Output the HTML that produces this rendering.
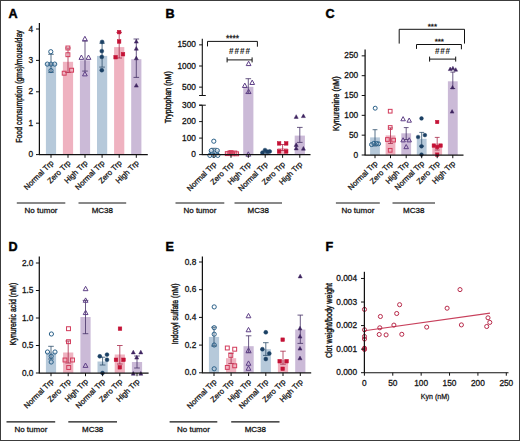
<!DOCTYPE html>
<html><head><meta charset="utf-8"><style>
html,body{margin:0;padding:0;background:#fff;width:520px;height:441px;overflow:hidden;}
svg{display:block;}
text{font-family:"Liberation Sans", sans-serif;}
</style></head><body>
<svg width="520" height="441" viewBox="0 0 520 441" font-family='"Liberation Sans", sans-serif'>
<rect x="0" y="0" width="520" height="441" fill="#fff"/>
<text x="8.6" y="17.5" font-size="12.6" font-weight="bold" fill="#000" stroke="#000" stroke-width="0.45">A</text>
<rect x="45.90" y="63.30" width="10.20" height="91.30" fill="#b6c9da"/>
<rect x="62.90" y="61.80" width="10.20" height="92.80" fill="#efb2c0"/>
<rect x="79.90" y="60.30" width="10.20" height="94.30" fill="#cbbad7"/>
<rect x="97.00" y="55.90" width="10.20" height="98.70" fill="#b6c9da"/>
<rect x="114.10" y="47.10" width="10.20" height="107.50" fill="#efb2c0"/>
<rect x="131.20" y="59.20" width="10.20" height="95.40" fill="#cbbad7"/>
<line x1="51.00" y1="54.30" x2="51.00" y2="72.30" stroke="#2e4f6c" stroke-width="0.8" />
<line x1="48.20" y1="54.30" x2="53.80" y2="54.30" stroke="#2e4f6c" stroke-width="0.8" />
<line x1="48.20" y1="72.30" x2="53.80" y2="72.30" stroke="#2e4f6c" stroke-width="0.8" />
<line x1="68.00" y1="48.00" x2="68.00" y2="72.50" stroke="#a8284a" stroke-width="0.8" />
<line x1="65.20" y1="48.00" x2="70.80" y2="48.00" stroke="#a8284a" stroke-width="0.8" />
<line x1="65.20" y1="72.50" x2="70.80" y2="72.50" stroke="#a8284a" stroke-width="0.8" />
<line x1="85.00" y1="41.10" x2="85.00" y2="71.10" stroke="#443064" stroke-width="0.8" />
<line x1="82.20" y1="41.10" x2="87.80" y2="41.10" stroke="#443064" stroke-width="0.8" />
<line x1="82.20" y1="71.10" x2="87.80" y2="71.10" stroke="#443064" stroke-width="0.8" />
<line x1="102.10" y1="43.20" x2="102.10" y2="67.10" stroke="#2e4f6c" stroke-width="0.8" />
<line x1="99.30" y1="43.20" x2="104.90" y2="43.20" stroke="#2e4f6c" stroke-width="0.8" />
<line x1="99.30" y1="67.10" x2="104.90" y2="67.10" stroke="#2e4f6c" stroke-width="0.8" />
<line x1="119.20" y1="32.40" x2="119.20" y2="58.00" stroke="#a8284a" stroke-width="0.8" />
<line x1="116.40" y1="32.40" x2="122.00" y2="32.40" stroke="#a8284a" stroke-width="0.8" />
<line x1="116.40" y1="58.00" x2="122.00" y2="58.00" stroke="#a8284a" stroke-width="0.8" />
<line x1="136.30" y1="39.00" x2="136.30" y2="77.40" stroke="#443064" stroke-width="0.8" />
<line x1="133.50" y1="39.00" x2="139.10" y2="39.00" stroke="#443064" stroke-width="0.8" />
<line x1="133.50" y1="77.40" x2="139.10" y2="77.40" stroke="#443064" stroke-width="0.8" />
<circle cx="50.80" cy="51.70" r="2.10" fill="none" stroke="#2a6088" stroke-width="1.0"/>
<circle cx="47.30" cy="64.10" r="2.10" fill="none" stroke="#2a6088" stroke-width="1.0"/>
<circle cx="51.00" cy="64.10" r="2.10" fill="none" stroke="#2a6088" stroke-width="1.0"/>
<circle cx="54.70" cy="64.10" r="2.10" fill="none" stroke="#2a6088" stroke-width="1.0"/>
<circle cx="51.00" cy="70.60" r="2.10" fill="none" stroke="#2a6088" stroke-width="1.0"/>
<rect x="65.95" y="46.05" width="3.90" height="3.90" fill="none" stroke="#d23a5a" stroke-width="1.0"/>
<rect x="65.95" y="52.75" width="3.90" height="3.90" fill="none" stroke="#d23a5a" stroke-width="1.0"/>
<rect x="62.25" y="71.25" width="3.90" height="3.90" fill="none" stroke="#d23a5a" stroke-width="1.0"/>
<rect x="69.65" y="68.25" width="3.90" height="3.90" fill="none" stroke="#d23a5a" stroke-width="1.0"/>
<polygon points="84.90,36.30 87.28,40.67 82.53,40.67" fill="none" stroke="#5e3f86" stroke-width="1.0" stroke-linejoin="miter"/>
<polygon points="81.40,55.00 83.78,59.38 79.03,59.38" fill="none" stroke="#5e3f86" stroke-width="1.0" stroke-linejoin="miter"/>
<polygon points="88.50,55.00 90.88,59.38 86.12,59.38" fill="none" stroke="#5e3f86" stroke-width="1.0" stroke-linejoin="miter"/>
<polygon points="84.90,71.50 87.28,75.88 82.53,75.88" fill="none" stroke="#5e3f86" stroke-width="1.0" stroke-linejoin="miter"/>
<circle cx="102.10" cy="41.90" r="1.95" fill="#1b4064" stroke="#1b4064" stroke-width="0.5"/>
<circle cx="101.80" cy="51.10" r="1.95" fill="#1b4064" stroke="#1b4064" stroke-width="0.5"/>
<circle cx="101.80" cy="56.90" r="1.95" fill="#1b4064" stroke="#1b4064" stroke-width="0.5"/>
<circle cx="101.80" cy="70.20" r="1.95" fill="#1b4064" stroke="#1b4064" stroke-width="0.5"/>
<rect x="117.30" y="30.30" width="3.60" height="3.60" fill="#c41236" stroke="#c41236" stroke-width="0.5"/>
<rect x="117.30" y="39.70" width="3.60" height="3.60" fill="#c41236" stroke="#c41236" stroke-width="0.5"/>
<rect x="113.80" y="55.40" width="3.60" height="3.60" fill="#c41236" stroke="#c41236" stroke-width="0.5"/>
<rect x="121.20" y="52.40" width="3.60" height="3.60" fill="#c41236" stroke="#c41236" stroke-width="0.5"/>
<polygon points="136.30,39.40 138.30,43.08 134.31,43.08" fill="#3e2460" stroke="#3e2460" stroke-width="0.5" stroke-linejoin="miter"/>
<polygon points="136.30,46.50 138.30,50.18 134.31,50.18" fill="#3e2460" stroke="#3e2460" stroke-width="0.5" stroke-linejoin="miter"/>
<polygon points="136.30,56.10 138.30,59.78 134.31,59.78" fill="#3e2460" stroke="#3e2460" stroke-width="0.5" stroke-linejoin="miter"/>
<polygon points="136.30,83.40 138.30,87.08 134.31,87.08" fill="#3e2460" stroke="#3e2460" stroke-width="0.5" stroke-linejoin="miter"/>
<line x1="39.40" y1="23.00" x2="39.40" y2="154.60" stroke="#111" stroke-width="1.25" />
<line x1="36.00" y1="154.60" x2="39.40" y2="154.60" stroke="#111" stroke-width="1.0" />
<text x="33.20" y="157.10" font-size="8.3" text-anchor="end" fill="#141414" stroke="#141414" stroke-width="0.28" font-weight="normal" >0</text>
<line x1="36.00" y1="123.20" x2="39.40" y2="123.20" stroke="#111" stroke-width="1.0" />
<text x="33.20" y="125.70" font-size="8.3" text-anchor="end" fill="#141414" stroke="#141414" stroke-width="0.28" font-weight="normal" >1</text>
<line x1="36.00" y1="91.80" x2="39.40" y2="91.80" stroke="#111" stroke-width="1.0" />
<text x="33.20" y="94.30" font-size="8.3" text-anchor="end" fill="#141414" stroke="#141414" stroke-width="0.28" font-weight="normal" >2</text>
<line x1="36.00" y1="60.40" x2="39.40" y2="60.40" stroke="#111" stroke-width="1.0" />
<text x="33.20" y="62.90" font-size="8.3" text-anchor="end" fill="#141414" stroke="#141414" stroke-width="0.28" font-weight="normal" >3</text>
<line x1="36.00" y1="29.00" x2="39.40" y2="29.00" stroke="#111" stroke-width="1.0" />
<text x="33.20" y="31.50" font-size="8.3" text-anchor="end" fill="#141414" stroke="#141414" stroke-width="0.28" font-weight="normal" >4</text>
<line x1="38.90" y1="154.60" x2="147.80" y2="154.60" stroke="#111" stroke-width="1.25" />
<line x1="51.00" y1="154.60" x2="51.00" y2="157.80" stroke="#111" stroke-width="1.0" />
<line x1="68.00" y1="154.60" x2="68.00" y2="157.80" stroke="#111" stroke-width="1.0" />
<line x1="85.00" y1="154.60" x2="85.00" y2="157.80" stroke="#111" stroke-width="1.0" />
<line x1="102.10" y1="154.60" x2="102.10" y2="157.80" stroke="#111" stroke-width="1.0" />
<line x1="119.20" y1="154.60" x2="119.20" y2="157.80" stroke="#111" stroke-width="1.0" />
<line x1="136.30" y1="154.60" x2="136.30" y2="157.80" stroke="#111" stroke-width="1.0" />
<text transform="translate(22.20,86.50) rotate(-90)" font-size="8.2" text-anchor="middle" fill="#141414" stroke="#141414" stroke-width="0.38" textLength="112.6" lengthAdjust="spacingAndGlyphs">Food consumption (gms)/mouse/day</text>
<text transform="translate(54.00,163.50) rotate(-45)" font-size="7.7" text-anchor="end" fill="#141414" stroke="#141414" stroke-width="0.28">Normal Trp</text>
<text transform="translate(71.00,163.50) rotate(-45)" font-size="7.7" text-anchor="end" fill="#141414" stroke="#141414" stroke-width="0.28">Zero Trp</text>
<text transform="translate(88.00,163.50) rotate(-45)" font-size="7.7" text-anchor="end" fill="#141414" stroke="#141414" stroke-width="0.28">High Trp</text>
<text transform="translate(105.10,163.50) rotate(-45)" font-size="7.7" text-anchor="end" fill="#141414" stroke="#141414" stroke-width="0.28">Normal Trp</text>
<text transform="translate(122.20,163.50) rotate(-45)" font-size="7.7" text-anchor="end" fill="#141414" stroke="#141414" stroke-width="0.28">Zero Trp</text>
<text transform="translate(139.30,163.50) rotate(-45)" font-size="7.7" text-anchor="end" fill="#141414" stroke="#141414" stroke-width="0.28">High Trp</text>
<line x1="16.80" y1="203.00" x2="65.30" y2="203.00" stroke="#151515" stroke-width="1.15" />
<line x1="78.50" y1="203.00" x2="126.20" y2="203.00" stroke="#151515" stroke-width="1.15" />
<text x="41.05" y="213.40" font-size="8" text-anchor="middle" fill="#141414" stroke="#141414" stroke-width="0.28" font-weight="normal" >No tumor</text>
<text x="102.35" y="213.40" font-size="8" text-anchor="middle" fill="#141414" stroke="#141414" stroke-width="0.28" font-weight="normal" >MC38</text>
<text x="165.6" y="17.5" font-size="12.6" font-weight="bold" fill="#000" stroke="#000" stroke-width="0.45">B</text>
<rect x="208.80" y="150.20" width="10.20" height="4.40" fill="#b6c9da"/>
<rect x="225.90" y="152.00" width="10.20" height="2.60" fill="#efb2c0"/>
<rect x="243.20" y="86.80" width="10.20" height="67.80" fill="#cbbad7"/>
<rect x="260.10" y="152.62" width="10.20" height="1.98" fill="#b6c9da"/>
<rect x="277.50" y="148.00" width="10.20" height="6.60" fill="#efb2c0"/>
<rect x="294.70" y="135.60" width="10.20" height="19.00" fill="#cbbad7"/>
<line x1="213.90" y1="148.30" x2="213.90" y2="154.60" stroke="#2e4f6c" stroke-width="0.8" />
<line x1="211.10" y1="148.30" x2="216.70" y2="148.30" stroke="#2e4f6c" stroke-width="0.8" />
<line x1="211.10" y1="154.60" x2="216.70" y2="154.60" stroke="#2e4f6c" stroke-width="0.8" />
<line x1="231.00" y1="151.50" x2="231.00" y2="154.60" stroke="#a8284a" stroke-width="0.8" />
<line x1="228.20" y1="151.50" x2="233.80" y2="151.50" stroke="#a8284a" stroke-width="0.8" />
<line x1="228.20" y1="154.60" x2="233.80" y2="154.60" stroke="#a8284a" stroke-width="0.8" />
<line x1="248.30" y1="78.70" x2="248.30" y2="93.30" stroke="#443064" stroke-width="0.8" />
<line x1="245.50" y1="78.70" x2="251.10" y2="78.70" stroke="#443064" stroke-width="0.8" />
<line x1="245.50" y1="93.30" x2="251.10" y2="93.30" stroke="#443064" stroke-width="0.8" />
<line x1="265.20" y1="152.00" x2="265.20" y2="154.60" stroke="#2e4f6c" stroke-width="0.8" />
<line x1="262.40" y1="152.00" x2="268.00" y2="152.00" stroke="#2e4f6c" stroke-width="0.8" />
<line x1="262.40" y1="154.60" x2="268.00" y2="154.60" stroke="#2e4f6c" stroke-width="0.8" />
<line x1="282.60" y1="144.50" x2="282.60" y2="150.50" stroke="#a8284a" stroke-width="0.8" />
<line x1="279.80" y1="144.50" x2="285.40" y2="144.50" stroke="#a8284a" stroke-width="0.8" />
<line x1="279.80" y1="150.50" x2="285.40" y2="150.50" stroke="#a8284a" stroke-width="0.8" />
<line x1="299.80" y1="127.40" x2="299.80" y2="142.40" stroke="#443064" stroke-width="0.8" />
<line x1="297.00" y1="127.40" x2="302.60" y2="127.40" stroke="#443064" stroke-width="0.8" />
<line x1="297.00" y1="142.40" x2="302.60" y2="142.40" stroke="#443064" stroke-width="0.8" />
<circle cx="213.80" cy="141.20" r="2.10" fill="none" stroke="#2a6088" stroke-width="1.0"/>
<circle cx="211.30" cy="150.60" r="2.10" fill="none" stroke="#2a6088" stroke-width="1.0"/>
<circle cx="217.30" cy="150.60" r="2.10" fill="none" stroke="#2a6088" stroke-width="1.0"/>
<circle cx="209.90" cy="155.40" r="2.10" fill="none" stroke="#2a6088" stroke-width="1.0"/>
<circle cx="213.80" cy="155.40" r="2.10" fill="none" stroke="#2a6088" stroke-width="1.0"/>
<circle cx="217.80" cy="155.40" r="2.10" fill="none" stroke="#2a6088" stroke-width="1.0"/>
<rect x="225.35" y="151.65" width="3.90" height="3.90" fill="none" stroke="#d23a5a" stroke-width="1.0"/>
<rect x="227.85" y="151.05" width="3.90" height="3.90" fill="none" stroke="#d23a5a" stroke-width="1.0"/>
<rect x="230.35" y="151.85" width="3.90" height="3.90" fill="none" stroke="#d23a5a" stroke-width="1.0"/>
<rect x="232.85" y="151.05" width="3.90" height="3.90" fill="none" stroke="#d23a5a" stroke-width="1.0"/>
<rect x="234.65" y="151.85" width="3.90" height="3.90" fill="none" stroke="#d23a5a" stroke-width="1.0"/>
<rect x="229.05" y="150.65" width="3.90" height="3.90" fill="none" stroke="#d23a5a" stroke-width="1.0"/>
<polygon points="248.60,61.20 250.97,65.58 246.22,65.58" fill="none" stroke="#5e3f86" stroke-width="1.0" stroke-linejoin="miter"/>
<polygon points="244.80,83.10 247.18,87.47 242.43,87.47" fill="none" stroke="#5e3f86" stroke-width="1.0" stroke-linejoin="miter"/>
<polygon points="252.20,80.10 254.57,84.47 249.82,84.47" fill="none" stroke="#5e3f86" stroke-width="1.0" stroke-linejoin="miter"/>
<polygon points="248.60,89.20 250.97,93.58 246.22,93.58" fill="none" stroke="#5e3f86" stroke-width="1.0" stroke-linejoin="miter"/>
<polygon points="248.30,151.80 250.68,156.18 245.93,156.18" fill="none" stroke="#5e3f86" stroke-width="1.0" stroke-linejoin="miter"/>
<circle cx="262.50" cy="152.60" r="1.95" fill="#1b4064" stroke="#1b4064" stroke-width="0.5"/>
<circle cx="265.00" cy="150.10" r="1.95" fill="#1b4064" stroke="#1b4064" stroke-width="0.5"/>
<circle cx="267.50" cy="151.80" r="1.95" fill="#1b4064" stroke="#1b4064" stroke-width="0.5"/>
<circle cx="269.70" cy="151.40" r="1.95" fill="#1b4064" stroke="#1b4064" stroke-width="0.5"/>
<rect x="277.30" y="141.60" width="3.60" height="3.60" fill="#c41236" stroke="#c41236" stroke-width="0.5"/>
<rect x="284.40" y="141.60" width="3.60" height="3.60" fill="#c41236" stroke="#c41236" stroke-width="0.5"/>
<rect x="277.30" y="149.60" width="3.60" height="3.60" fill="#c41236" stroke="#c41236" stroke-width="0.5"/>
<rect x="284.40" y="149.60" width="3.60" height="3.60" fill="#c41236" stroke="#c41236" stroke-width="0.5"/>
<polygon points="296.20,114.70 298.19,118.38 294.20,118.38" fill="#3e2460" stroke="#3e2460" stroke-width="0.5" stroke-linejoin="miter"/>
<polygon points="303.40,113.90 305.39,117.58 301.40,117.58" fill="#3e2460" stroke="#3e2460" stroke-width="0.5" stroke-linejoin="miter"/>
<polygon points="296.20,142.80 298.19,146.47 294.20,146.47" fill="#3e2460" stroke="#3e2460" stroke-width="0.5" stroke-linejoin="miter"/>
<polygon points="296.20,146.20 298.19,149.88 294.20,149.88" fill="#3e2460" stroke="#3e2460" stroke-width="0.5" stroke-linejoin="miter"/>
<polygon points="303.40,146.50 305.39,150.17 301.40,150.17" fill="#3e2460" stroke="#3e2460" stroke-width="0.5" stroke-linejoin="miter"/>
<line x1="202.30" y1="38.80" x2="202.30" y2="95.50" stroke="#111" stroke-width="1.1" />
<line x1="202.30" y1="105.20" x2="202.30" y2="154.60" stroke="#111" stroke-width="1.1" />
<line x1="199.10" y1="95.50" x2="205.80" y2="95.50" stroke="#111" stroke-width="1.0" />
<line x1="199.10" y1="105.20" x2="205.80" y2="105.20" stroke="#111" stroke-width="1.0" />
<line x1="199.10" y1="44.85" x2="202.30" y2="44.85" stroke="#111" stroke-width="1.0" />
<text x="195.90" y="47.35" font-size="8.3" text-anchor="end" fill="#141414" stroke="#141414" stroke-width="0.28" font-weight="normal" >1500</text>
<line x1="199.10" y1="66.00" x2="202.30" y2="66.00" stroke="#111" stroke-width="1.0" />
<text x="195.90" y="68.50" font-size="8.3" text-anchor="end" fill="#141414" stroke="#141414" stroke-width="0.28" font-weight="normal" >1000</text>
<line x1="199.10" y1="87.15" x2="202.30" y2="87.15" stroke="#111" stroke-width="1.0" />
<text x="195.90" y="89.65" font-size="8.3" text-anchor="end" fill="#141414" stroke="#141414" stroke-width="0.28" font-weight="normal" >500</text>
<line x1="199.10" y1="105.20" x2="202.30" y2="105.20" stroke="#111" stroke-width="1.0" />
<text x="195.90" y="107.70" font-size="8.3" text-anchor="end" fill="#141414" stroke="#141414" stroke-width="0.28" font-weight="normal" >300</text>
<line x1="199.10" y1="121.60" x2="202.30" y2="121.60" stroke="#111" stroke-width="1.0" />
<text x="195.90" y="124.10" font-size="8.3" text-anchor="end" fill="#141414" stroke="#141414" stroke-width="0.28" font-weight="normal" >200</text>
<line x1="199.10" y1="138.10" x2="202.30" y2="138.10" stroke="#111" stroke-width="1.0" />
<text x="195.90" y="140.60" font-size="8.3" text-anchor="end" fill="#141414" stroke="#141414" stroke-width="0.28" font-weight="normal" >100</text>
<line x1="199.10" y1="154.60" x2="202.30" y2="154.60" stroke="#111" stroke-width="1.0" />
<text x="195.90" y="157.10" font-size="8.3" text-anchor="end" fill="#141414" stroke="#141414" stroke-width="0.28" font-weight="normal" >0</text>
<line x1="201.80" y1="154.60" x2="310.50" y2="154.60" stroke="#111" stroke-width="1.25" />
<line x1="213.90" y1="154.60" x2="213.90" y2="157.80" stroke="#111" stroke-width="1.0" />
<line x1="231.00" y1="154.60" x2="231.00" y2="157.80" stroke="#111" stroke-width="1.0" />
<line x1="248.30" y1="154.60" x2="248.30" y2="157.80" stroke="#111" stroke-width="1.0" />
<line x1="265.20" y1="154.60" x2="265.20" y2="157.80" stroke="#111" stroke-width="1.0" />
<line x1="282.60" y1="154.60" x2="282.60" y2="157.80" stroke="#111" stroke-width="1.0" />
<line x1="299.80" y1="154.60" x2="299.80" y2="157.80" stroke="#111" stroke-width="1.0" />
<text transform="translate(170.60,97.20) rotate(-90)" font-size="8.2" text-anchor="middle" fill="#141414" stroke="#141414" stroke-width="0.38" textLength="52.0" lengthAdjust="spacingAndGlyphs">Tryptophan (nM)</text>
<text transform="translate(216.90,164.80) rotate(-45)" font-size="7.7" text-anchor="end" fill="#141414" stroke="#141414" stroke-width="0.28">Normal Trp</text>
<text transform="translate(234.00,164.80) rotate(-45)" font-size="7.7" text-anchor="end" fill="#141414" stroke="#141414" stroke-width="0.28">Zero Trp</text>
<text transform="translate(251.30,164.80) rotate(-45)" font-size="7.7" text-anchor="end" fill="#141414" stroke="#141414" stroke-width="0.28">High Trp</text>
<text transform="translate(268.20,164.80) rotate(-45)" font-size="7.7" text-anchor="end" fill="#141414" stroke="#141414" stroke-width="0.28">Normal Trp</text>
<text transform="translate(285.60,164.80) rotate(-45)" font-size="7.7" text-anchor="end" fill="#141414" stroke="#141414" stroke-width="0.28">Zero Trp</text>
<text transform="translate(302.80,164.80) rotate(-45)" font-size="7.7" text-anchor="end" fill="#141414" stroke="#141414" stroke-width="0.28">High Trp</text>
<line x1="175.50" y1="203.00" x2="224.30" y2="203.00" stroke="#151515" stroke-width="1.15" />
<line x1="234.50" y1="203.00" x2="282.00" y2="203.00" stroke="#151515" stroke-width="1.15" />
<text x="199.90" y="213.40" font-size="8" text-anchor="middle" fill="#141414" stroke="#141414" stroke-width="0.28" font-weight="normal" >No tumor</text>
<text x="258.25" y="213.40" font-size="8" text-anchor="middle" fill="#141414" stroke="#141414" stroke-width="0.28" font-weight="normal" >MC38</text>
<line x1="207.50" y1="41.40" x2="257.40" y2="41.40" stroke="#111" stroke-width="1.0" />
<line x1="207.50" y1="41.40" x2="207.50" y2="46.40" stroke="#111" stroke-width="1.0" />
<line x1="257.40" y1="41.40" x2="257.40" y2="46.70" stroke="#111" stroke-width="1.0" />
<text x="232.40" y="40.90" font-size="8.4" text-anchor="middle" fill="#222" stroke="#222" stroke-width="0.28" font-weight="normal" >****</text>
<text x="239.60" y="54.30" font-size="8.2" text-anchor="middle" fill="#222" stroke="#222" stroke-width="0.05" font-weight="bold" textLength="21" lengthAdjust="spacing">####</text>
<line x1="227.10" y1="59.90" x2="252.10" y2="59.90" stroke="#111" stroke-width="1.0" />
<line x1="227.10" y1="57.40" x2="227.10" y2="62.40" stroke="#111" stroke-width="1.0" />
<line x1="252.10" y1="57.40" x2="252.10" y2="62.40" stroke="#111" stroke-width="1.0" />
<text x="325.4" y="17.5" font-size="12.6" font-weight="bold" fill="#000" stroke="#000" stroke-width="0.45">C</text>
<rect x="370.10" y="137.40" width="9.80" height="17.60" fill="#b6c9da"/>
<rect x="385.60" y="135.40" width="9.80" height="19.60" fill="#efb2c0"/>
<rect x="401.30" y="133.30" width="9.80" height="21.70" fill="#cbbad7"/>
<rect x="416.80" y="138.80" width="9.80" height="16.20" fill="#b6c9da"/>
<rect x="432.30" y="143.50" width="9.80" height="11.50" fill="#efb2c0"/>
<rect x="447.90" y="81.30" width="9.80" height="73.70" fill="#cbbad7"/>
<line x1="375.00" y1="129.70" x2="375.00" y2="146.00" stroke="#2e4f6c" stroke-width="0.8" />
<line x1="372.60" y1="129.70" x2="377.40" y2="129.70" stroke="#2e4f6c" stroke-width="0.8" />
<line x1="372.60" y1="146.00" x2="377.40" y2="146.00" stroke="#2e4f6c" stroke-width="0.8" />
<line x1="390.50" y1="127.90" x2="390.50" y2="143.50" stroke="#a8284a" stroke-width="0.8" />
<line x1="388.10" y1="127.90" x2="392.90" y2="127.90" stroke="#a8284a" stroke-width="0.8" />
<line x1="388.10" y1="143.50" x2="392.90" y2="143.50" stroke="#a8284a" stroke-width="0.8" />
<line x1="406.20" y1="127.60" x2="406.20" y2="139.50" stroke="#443064" stroke-width="0.8" />
<line x1="403.80" y1="127.60" x2="408.60" y2="127.60" stroke="#443064" stroke-width="0.8" />
<line x1="403.80" y1="139.50" x2="408.60" y2="139.50" stroke="#443064" stroke-width="0.8" />
<line x1="421.70" y1="132.40" x2="421.70" y2="146.00" stroke="#2e4f6c" stroke-width="0.8" />
<line x1="419.30" y1="132.40" x2="424.10" y2="132.40" stroke="#2e4f6c" stroke-width="0.8" />
<line x1="419.30" y1="146.00" x2="424.10" y2="146.00" stroke="#2e4f6c" stroke-width="0.8" />
<line x1="437.20" y1="137.40" x2="437.20" y2="150.00" stroke="#a8284a" stroke-width="0.8" />
<line x1="434.80" y1="137.40" x2="439.60" y2="137.40" stroke="#a8284a" stroke-width="0.8" />
<line x1="434.80" y1="150.00" x2="439.60" y2="150.00" stroke="#a8284a" stroke-width="0.8" />
<line x1="452.80" y1="72.10" x2="452.80" y2="88.50" stroke="#443064" stroke-width="0.8" />
<line x1="450.40" y1="72.10" x2="455.20" y2="72.10" stroke="#443064" stroke-width="0.8" />
<line x1="450.40" y1="88.50" x2="455.20" y2="88.50" stroke="#443064" stroke-width="0.8" />
<circle cx="375.20" cy="108.20" r="1.99" fill="none" stroke="#2a6088" stroke-width="1.0"/>
<circle cx="371.50" cy="144.60" r="1.99" fill="none" stroke="#2a6088" stroke-width="1.0"/>
<circle cx="373.80" cy="143.30" r="1.99" fill="none" stroke="#2a6088" stroke-width="1.0"/>
<circle cx="376.60" cy="143.50" r="1.99" fill="none" stroke="#2a6088" stroke-width="1.0"/>
<circle cx="378.60" cy="143.80" r="1.99" fill="none" stroke="#2a6088" stroke-width="1.0"/>
<rect x="388.35" y="109.35" width="3.70" height="3.70" fill="none" stroke="#d23a5a" stroke-width="1.0"/>
<rect x="388.35" y="125.65" width="3.70" height="3.70" fill="none" stroke="#d23a5a" stroke-width="1.0"/>
<rect x="385.55" y="137.65" width="3.70" height="3.70" fill="none" stroke="#d23a5a" stroke-width="1.0"/>
<rect x="391.75" y="138.25" width="3.70" height="3.70" fill="none" stroke="#d23a5a" stroke-width="1.0"/>
<rect x="388.35" y="148.45" width="3.70" height="3.70" fill="none" stroke="#d23a5a" stroke-width="1.0"/>
<polygon points="403.10,116.62 405.36,120.78 400.84,120.78" fill="none" stroke="#5e3f86" stroke-width="1.0" stroke-linejoin="miter"/>
<polygon points="409.20,118.03 411.46,122.18 406.94,122.18" fill="none" stroke="#5e3f86" stroke-width="1.0" stroke-linejoin="miter"/>
<polygon points="403.10,137.72 405.36,141.88 400.84,141.88" fill="none" stroke="#5e3f86" stroke-width="1.0" stroke-linejoin="miter"/>
<polygon points="409.20,137.72 411.46,141.88 406.94,141.88" fill="none" stroke="#5e3f86" stroke-width="1.0" stroke-linejoin="miter"/>
<polygon points="406.20,144.53 408.46,148.68 403.94,148.68" fill="none" stroke="#5e3f86" stroke-width="1.0" stroke-linejoin="miter"/>
<circle cx="421.50" cy="118.40" r="1.85" fill="#1b4064" stroke="#1b4064" stroke-width="0.5"/>
<circle cx="418.10" cy="137.00" r="1.85" fill="#1b4064" stroke="#1b4064" stroke-width="0.5"/>
<circle cx="424.90" cy="135.10" r="1.85" fill="#1b4064" stroke="#1b4064" stroke-width="0.5"/>
<circle cx="421.50" cy="146.30" r="1.85" fill="#1b4064" stroke="#1b4064" stroke-width="0.5"/>
<circle cx="421.50" cy="154.60" r="1.85" fill="#1b4064" stroke="#1b4064" stroke-width="0.5"/>
<rect x="435.49" y="120.29" width="3.42" height="3.42" fill="#c41236" stroke="#c41236" stroke-width="0.5"/>
<rect x="432.09" y="143.89" width="3.42" height="3.42" fill="#c41236" stroke="#c41236" stroke-width="0.5"/>
<rect x="438.89" y="143.89" width="3.42" height="3.42" fill="#c41236" stroke="#c41236" stroke-width="0.5"/>
<rect x="435.49" y="145.29" width="3.42" height="3.42" fill="#c41236" stroke="#c41236" stroke-width="0.5"/>
<rect x="435.49" y="152.89" width="3.42" height="3.42" fill="#c41236" stroke="#c41236" stroke-width="0.5"/>
<polygon points="450.20,67.10 452.10,70.60 448.30,70.60" fill="#3e2460" stroke="#3e2460" stroke-width="0.5" stroke-linejoin="miter"/>
<polygon points="455.70,67.70 457.60,71.20 453.80,71.20" fill="#3e2460" stroke="#3e2460" stroke-width="0.5" stroke-linejoin="miter"/>
<polygon points="452.90,66.30 454.80,69.80 451.00,69.80" fill="#3e2460" stroke="#3e2460" stroke-width="0.5" stroke-linejoin="miter"/>
<polygon points="452.50,85.41 454.40,88.90 450.60,88.90" fill="#3e2460" stroke="#3e2460" stroke-width="0.5" stroke-linejoin="miter"/>
<polygon points="452.10,109.60 454.00,113.10 450.20,113.10" fill="#3e2460" stroke="#3e2460" stroke-width="0.5" stroke-linejoin="miter"/>
<line x1="365.10" y1="49.60" x2="365.10" y2="155.00" stroke="#111" stroke-width="1.25" />
<line x1="361.70" y1="155.00" x2="365.10" y2="155.00" stroke="#111" stroke-width="1.0" />
<text x="358.20" y="157.50" font-size="8.3" text-anchor="end" fill="#141414" stroke="#141414" stroke-width="0.28" font-weight="normal" >0</text>
<line x1="361.70" y1="135.17" x2="365.10" y2="135.17" stroke="#111" stroke-width="1.0" />
<text x="358.20" y="137.67" font-size="8.3" text-anchor="end" fill="#141414" stroke="#141414" stroke-width="0.28" font-weight="normal" >50</text>
<line x1="361.70" y1="115.34" x2="365.10" y2="115.34" stroke="#111" stroke-width="1.0" />
<text x="358.20" y="117.84" font-size="8.3" text-anchor="end" fill="#141414" stroke="#141414" stroke-width="0.28" font-weight="normal" >100</text>
<line x1="361.70" y1="95.51" x2="365.10" y2="95.51" stroke="#111" stroke-width="1.0" />
<text x="358.20" y="98.01" font-size="8.3" text-anchor="end" fill="#141414" stroke="#141414" stroke-width="0.28" font-weight="normal" >150</text>
<line x1="361.70" y1="75.68" x2="365.10" y2="75.68" stroke="#111" stroke-width="1.0" />
<text x="358.20" y="78.18" font-size="8.3" text-anchor="end" fill="#141414" stroke="#141414" stroke-width="0.28" font-weight="normal" >200</text>
<line x1="361.70" y1="55.85" x2="365.10" y2="55.85" stroke="#111" stroke-width="1.0" />
<text x="358.20" y="58.35" font-size="8.3" text-anchor="end" fill="#141414" stroke="#141414" stroke-width="0.28" font-weight="normal" >250</text>
<line x1="364.60" y1="155.00" x2="463.50" y2="155.00" stroke="#111" stroke-width="1.25" />
<line x1="375.00" y1="155.00" x2="375.00" y2="158.20" stroke="#111" stroke-width="1.0" />
<line x1="390.50" y1="155.00" x2="390.50" y2="158.20" stroke="#111" stroke-width="1.0" />
<line x1="406.20" y1="155.00" x2="406.20" y2="158.20" stroke="#111" stroke-width="1.0" />
<line x1="421.70" y1="155.00" x2="421.70" y2="158.20" stroke="#111" stroke-width="1.0" />
<line x1="437.20" y1="155.00" x2="437.20" y2="158.20" stroke="#111" stroke-width="1.0" />
<line x1="452.80" y1="155.00" x2="452.80" y2="158.20" stroke="#111" stroke-width="1.0" />
<text transform="translate(338.60,103.60) rotate(-90)" font-size="8.2" text-anchor="middle" fill="#141414" stroke="#141414" stroke-width="0.38" textLength="54.6" lengthAdjust="spacingAndGlyphs">Kynurenine (nM)</text>
<text transform="translate(378.00,163.90) rotate(-45)" font-size="7.7" text-anchor="end" fill="#141414" stroke="#141414" stroke-width="0.28">Normal Trp</text>
<text transform="translate(393.50,163.90) rotate(-45)" font-size="7.7" text-anchor="end" fill="#141414" stroke="#141414" stroke-width="0.28">Zero Trp</text>
<text transform="translate(409.20,163.90) rotate(-45)" font-size="7.7" text-anchor="end" fill="#141414" stroke="#141414" stroke-width="0.28">High Trp</text>
<text transform="translate(424.70,163.90) rotate(-45)" font-size="7.7" text-anchor="end" fill="#141414" stroke="#141414" stroke-width="0.28">Normal Trp</text>
<text transform="translate(440.20,163.90) rotate(-45)" font-size="7.7" text-anchor="end" fill="#141414" stroke="#141414" stroke-width="0.28">Zero Trp</text>
<text transform="translate(455.80,163.90) rotate(-45)" font-size="7.7" text-anchor="end" fill="#141414" stroke="#141414" stroke-width="0.28">High Trp</text>
<line x1="335.90" y1="203.00" x2="379.80" y2="203.00" stroke="#151515" stroke-width="1.15" />
<line x1="392.50" y1="203.00" x2="435.00" y2="203.00" stroke="#151515" stroke-width="1.15" />
<text x="357.85" y="213.40" font-size="8" text-anchor="middle" fill="#141414" stroke="#141414" stroke-width="0.28" font-weight="normal" >No tumor</text>
<text x="413.75" y="213.40" font-size="8" text-anchor="middle" fill="#141414" stroke="#141414" stroke-width="0.28" font-weight="normal" >MC38</text>
<line x1="399.20" y1="29.30" x2="464.50" y2="29.30" stroke="#111" stroke-width="1.0" />
<line x1="399.20" y1="29.30" x2="399.20" y2="43.60" stroke="#111" stroke-width="1.0" />
<line x1="464.50" y1="29.30" x2="464.50" y2="43.60" stroke="#111" stroke-width="1.0" />
<text x="432.40" y="29.00" font-size="8" text-anchor="middle" fill="#141414" stroke="#141414" stroke-width="0.28" font-weight="normal" >***</text>
<line x1="416.50" y1="44.50" x2="461.40" y2="44.50" stroke="#111" stroke-width="1.0" />
<line x1="416.50" y1="44.50" x2="416.50" y2="48.90" stroke="#111" stroke-width="1.0" />
<line x1="461.40" y1="44.50" x2="461.40" y2="49.30" stroke="#111" stroke-width="1.0" />
<text x="439.30" y="44.00" font-size="8" text-anchor="middle" fill="#141414" stroke="#141414" stroke-width="0.28" font-weight="normal" >***</text>
<text x="442.60" y="54.30" font-size="8.2" text-anchor="middle" fill="#222" stroke="#222" stroke-width="0.05" font-weight="bold" textLength="15" lengthAdjust="spacing">###</text>
<line x1="429.60" y1="59.10" x2="455.70" y2="59.10" stroke="#111" stroke-width="1.0" />
<line x1="429.60" y1="56.60" x2="429.60" y2="61.60" stroke="#111" stroke-width="1.0" />
<line x1="455.70" y1="56.60" x2="455.70" y2="61.60" stroke="#111" stroke-width="1.0" />
<text x="8.6" y="251.3" font-size="12.6" font-weight="bold" fill="#000" stroke="#000" stroke-width="0.45">D</text>
<rect x="45.90" y="352.50" width="10.20" height="20.50" fill="#b6c9da"/>
<rect x="63.10" y="352.50" width="10.20" height="20.50" fill="#efb2c0"/>
<rect x="80.40" y="317.00" width="10.20" height="56.00" fill="#cbbad7"/>
<rect x="97.50" y="361.50" width="10.20" height="11.50" fill="#b6c9da"/>
<rect x="114.70" y="354.50" width="10.20" height="18.50" fill="#efb2c0"/>
<rect x="131.90" y="362.00" width="10.20" height="11.00" fill="#cbbad7"/>
<line x1="51.00" y1="346.30" x2="51.00" y2="359.00" stroke="#2e4f6c" stroke-width="0.8" />
<line x1="48.20" y1="346.30" x2="53.80" y2="346.30" stroke="#2e4f6c" stroke-width="0.8" />
<line x1="48.20" y1="359.00" x2="53.80" y2="359.00" stroke="#2e4f6c" stroke-width="0.8" />
<line x1="68.20" y1="341.00" x2="68.20" y2="363.00" stroke="#a8284a" stroke-width="0.8" />
<line x1="65.40" y1="341.00" x2="71.00" y2="341.00" stroke="#a8284a" stroke-width="0.8" />
<line x1="65.40" y1="363.00" x2="71.00" y2="363.00" stroke="#a8284a" stroke-width="0.8" />
<line x1="85.50" y1="300.40" x2="85.50" y2="333.70" stroke="#443064" stroke-width="0.8" />
<line x1="82.70" y1="300.40" x2="88.30" y2="300.40" stroke="#443064" stroke-width="0.8" />
<line x1="82.70" y1="333.70" x2="88.30" y2="333.70" stroke="#443064" stroke-width="0.8" />
<line x1="102.60" y1="357.20" x2="102.60" y2="365.00" stroke="#2e4f6c" stroke-width="0.8" />
<line x1="99.80" y1="357.20" x2="105.40" y2="357.20" stroke="#2e4f6c" stroke-width="0.8" />
<line x1="99.80" y1="365.00" x2="105.40" y2="365.00" stroke="#2e4f6c" stroke-width="0.8" />
<line x1="119.80" y1="345.50" x2="119.80" y2="364.00" stroke="#a8284a" stroke-width="0.8" />
<line x1="117.00" y1="345.50" x2="122.60" y2="345.50" stroke="#a8284a" stroke-width="0.8" />
<line x1="117.00" y1="364.00" x2="122.60" y2="364.00" stroke="#a8284a" stroke-width="0.8" />
<line x1="137.00" y1="356.00" x2="137.00" y2="368.00" stroke="#443064" stroke-width="0.8" />
<line x1="134.20" y1="356.00" x2="139.80" y2="356.00" stroke="#443064" stroke-width="0.8" />
<line x1="134.20" y1="368.00" x2="139.80" y2="368.00" stroke="#443064" stroke-width="0.8" />
<circle cx="51.40" cy="334.00" r="2.10" fill="none" stroke="#2a6088" stroke-width="1.0"/>
<circle cx="47.50" cy="352.00" r="2.10" fill="none" stroke="#2a6088" stroke-width="1.0"/>
<circle cx="55.00" cy="352.00" r="2.10" fill="none" stroke="#2a6088" stroke-width="1.0"/>
<circle cx="51.20" cy="356.30" r="2.10" fill="none" stroke="#2a6088" stroke-width="1.0"/>
<circle cx="51.20" cy="362.00" r="2.10" fill="none" stroke="#2a6088" stroke-width="1.0"/>
<rect x="66.55" y="326.75" width="3.90" height="3.90" fill="none" stroke="#d23a5a" stroke-width="1.0"/>
<rect x="66.55" y="339.75" width="3.90" height="3.90" fill="none" stroke="#d23a5a" stroke-width="1.0"/>
<rect x="63.05" y="358.05" width="3.90" height="3.90" fill="none" stroke="#d23a5a" stroke-width="1.0"/>
<rect x="70.55" y="358.05" width="3.90" height="3.90" fill="none" stroke="#d23a5a" stroke-width="1.0"/>
<rect x="66.75" y="365.55" width="3.90" height="3.90" fill="none" stroke="#d23a5a" stroke-width="1.0"/>
<polygon points="85.60,286.30 87.97,290.68 83.22,290.68" fill="none" stroke="#5e3f86" stroke-width="1.0" stroke-linejoin="miter"/>
<polygon points="85.60,297.90 87.97,302.27 83.22,302.27" fill="none" stroke="#5e3f86" stroke-width="1.0" stroke-linejoin="miter"/>
<polygon points="85.60,310.20 87.97,314.57 83.22,314.57" fill="none" stroke="#5e3f86" stroke-width="1.0" stroke-linejoin="miter"/>
<polygon points="85.50,363.00 87.88,367.38 83.12,367.38" fill="none" stroke="#5e3f86" stroke-width="1.0" stroke-linejoin="miter"/>
<circle cx="99.80" cy="356.30" r="1.95" fill="#1b4064" stroke="#1b4064" stroke-width="0.5"/>
<circle cx="107.00" cy="354.60" r="1.95" fill="#1b4064" stroke="#1b4064" stroke-width="0.5"/>
<circle cx="107.00" cy="359.80" r="1.95" fill="#1b4064" stroke="#1b4064" stroke-width="0.5"/>
<circle cx="102.50" cy="373.00" r="1.95" fill="#1b4064" stroke="#1b4064" stroke-width="0.5"/>
<rect x="118.20" y="326.90" width="3.60" height="3.60" fill="#c41236" stroke="#c41236" stroke-width="0.5"/>
<rect x="114.20" y="358.00" width="3.60" height="3.60" fill="#c41236" stroke="#c41236" stroke-width="0.5"/>
<rect x="121.70" y="358.00" width="3.60" height="3.60" fill="#c41236" stroke="#c41236" stroke-width="0.5"/>
<rect x="118.00" y="365.50" width="3.60" height="3.60" fill="#c41236" stroke="#c41236" stroke-width="0.5"/>
<polygon points="133.30,350.20 135.30,353.88 131.31,353.88" fill="#3e2460" stroke="#3e2460" stroke-width="0.5" stroke-linejoin="miter"/>
<polygon points="140.80,350.20 142.80,353.88 138.81,353.88" fill="#3e2460" stroke="#3e2460" stroke-width="0.5" stroke-linejoin="miter"/>
<polygon points="136.70,355.40 138.69,359.07 134.70,359.07" fill="#3e2460" stroke="#3e2460" stroke-width="0.5" stroke-linejoin="miter"/>
<polygon points="133.30,371.50 135.30,375.18 131.31,375.18" fill="#3e2460" stroke="#3e2460" stroke-width="0.5" stroke-linejoin="miter"/>
<polygon points="140.80,371.50 142.80,375.18 138.81,375.18" fill="#3e2460" stroke="#3e2460" stroke-width="0.5" stroke-linejoin="miter"/>
<line x1="39.30" y1="256.50" x2="39.30" y2="373.00" stroke="#111" stroke-width="1.25" />
<line x1="35.90" y1="373.00" x2="39.30" y2="373.00" stroke="#111" stroke-width="1.0" />
<text x="33.50" y="375.50" font-size="8.3" text-anchor="end" fill="#141414" stroke="#141414" stroke-width="0.28" font-weight="normal" >0.0</text>
<line x1="35.90" y1="345.50" x2="39.30" y2="345.50" stroke="#111" stroke-width="1.0" />
<text x="33.50" y="348.00" font-size="8.3" text-anchor="end" fill="#141414" stroke="#141414" stroke-width="0.28" font-weight="normal" >0.5</text>
<line x1="35.90" y1="318.00" x2="39.30" y2="318.00" stroke="#111" stroke-width="1.0" />
<text x="33.50" y="320.50" font-size="8.3" text-anchor="end" fill="#141414" stroke="#141414" stroke-width="0.28" font-weight="normal" >1.0</text>
<line x1="35.90" y1="290.50" x2="39.30" y2="290.50" stroke="#111" stroke-width="1.0" />
<text x="33.50" y="293.00" font-size="8.3" text-anchor="end" fill="#141414" stroke="#141414" stroke-width="0.28" font-weight="normal" >1.5</text>
<line x1="35.90" y1="263.00" x2="39.30" y2="263.00" stroke="#111" stroke-width="1.0" />
<text x="33.50" y="265.50" font-size="8.3" text-anchor="end" fill="#141414" stroke="#141414" stroke-width="0.28" font-weight="normal" >2.0</text>
<line x1="38.80" y1="373.00" x2="148.60" y2="373.00" stroke="#111" stroke-width="1.25" />
<line x1="51.00" y1="373.00" x2="51.00" y2="376.20" stroke="#111" stroke-width="1.0" />
<line x1="68.20" y1="373.00" x2="68.20" y2="376.20" stroke="#111" stroke-width="1.0" />
<line x1="85.50" y1="373.00" x2="85.50" y2="376.20" stroke="#111" stroke-width="1.0" />
<line x1="102.60" y1="373.00" x2="102.60" y2="376.20" stroke="#111" stroke-width="1.0" />
<line x1="119.80" y1="373.00" x2="119.80" y2="376.20" stroke="#111" stroke-width="1.0" />
<line x1="137.00" y1="373.00" x2="137.00" y2="376.20" stroke="#111" stroke-width="1.0" />
<text transform="translate(15.80,314.00) rotate(-90)" font-size="8.2" text-anchor="middle" fill="#141414" stroke="#141414" stroke-width="0.38" textLength="62.6" lengthAdjust="spacingAndGlyphs">Kynurenic acid (nM)</text>
<text transform="translate(54.00,382.00) rotate(-45)" font-size="7.7" text-anchor="end" fill="#141414" stroke="#141414" stroke-width="0.28">Normal Trp</text>
<text transform="translate(71.20,382.00) rotate(-45)" font-size="7.7" text-anchor="end" fill="#141414" stroke="#141414" stroke-width="0.28">Zero Trp</text>
<text transform="translate(88.50,382.00) rotate(-45)" font-size="7.7" text-anchor="end" fill="#141414" stroke="#141414" stroke-width="0.28">High Trp</text>
<text transform="translate(105.60,382.00) rotate(-45)" font-size="7.7" text-anchor="end" fill="#141414" stroke="#141414" stroke-width="0.28">Normal Trp</text>
<text transform="translate(122.80,382.00) rotate(-45)" font-size="7.7" text-anchor="end" fill="#141414" stroke="#141414" stroke-width="0.28">Zero Trp</text>
<text transform="translate(140.00,382.00) rotate(-45)" font-size="7.7" text-anchor="end" fill="#141414" stroke="#141414" stroke-width="0.28">High Trp</text>
<line x1="6.50" y1="421.80" x2="55.20" y2="421.80" stroke="#151515" stroke-width="1.15" />
<line x1="68.30" y1="421.80" x2="117.00" y2="421.80" stroke="#151515" stroke-width="1.15" />
<text x="30.85" y="432.20" font-size="8" text-anchor="middle" fill="#141414" stroke="#141414" stroke-width="0.28" font-weight="normal" >No tumor</text>
<text x="92.65" y="432.20" font-size="8" text-anchor="middle" fill="#141414" stroke="#141414" stroke-width="0.28" font-weight="normal" >MC38</text>
<text x="165.6" y="251.3" font-size="12.6" font-weight="bold" fill="#000" stroke="#000" stroke-width="0.45">E</text>
<rect x="208.90" y="336.90" width="10.20" height="35.90" fill="#b6c9da"/>
<rect x="226.00" y="358.20" width="10.20" height="14.60" fill="#efb2c0"/>
<rect x="243.50" y="346.20" width="10.20" height="26.60" fill="#cbbad7"/>
<rect x="260.70" y="349.20" width="10.20" height="23.60" fill="#b6c9da"/>
<rect x="277.90" y="360.00" width="10.20" height="12.80" fill="#efb2c0"/>
<rect x="295.20" y="329.50" width="10.20" height="43.30" fill="#cbbad7"/>
<line x1="214.00" y1="327.20" x2="214.00" y2="346.00" stroke="#2e4f6c" stroke-width="0.8" />
<line x1="211.20" y1="327.20" x2="216.80" y2="327.20" stroke="#2e4f6c" stroke-width="0.8" />
<line x1="211.20" y1="346.00" x2="216.80" y2="346.00" stroke="#2e4f6c" stroke-width="0.8" />
<line x1="231.10" y1="353.00" x2="231.10" y2="363.50" stroke="#a8284a" stroke-width="0.8" />
<line x1="228.30" y1="353.00" x2="233.90" y2="353.00" stroke="#a8284a" stroke-width="0.8" />
<line x1="228.30" y1="363.50" x2="233.90" y2="363.50" stroke="#a8284a" stroke-width="0.8" />
<line x1="248.60" y1="335.80" x2="248.60" y2="352.80" stroke="#443064" stroke-width="0.8" />
<line x1="245.80" y1="335.80" x2="251.40" y2="335.80" stroke="#443064" stroke-width="0.8" />
<line x1="245.80" y1="352.80" x2="251.40" y2="352.80" stroke="#443064" stroke-width="0.8" />
<line x1="265.80" y1="342.70" x2="265.80" y2="355.40" stroke="#2e4f6c" stroke-width="0.8" />
<line x1="263.00" y1="342.70" x2="268.60" y2="342.70" stroke="#2e4f6c" stroke-width="0.8" />
<line x1="263.00" y1="355.40" x2="268.60" y2="355.40" stroke="#2e4f6c" stroke-width="0.8" />
<line x1="283.00" y1="351.20" x2="283.00" y2="364.20" stroke="#a8284a" stroke-width="0.8" />
<line x1="280.20" y1="351.20" x2="285.80" y2="351.20" stroke="#a8284a" stroke-width="0.8" />
<line x1="280.20" y1="364.20" x2="285.80" y2="364.20" stroke="#a8284a" stroke-width="0.8" />
<line x1="300.30" y1="315.10" x2="300.30" y2="343.40" stroke="#443064" stroke-width="0.8" />
<line x1="297.50" y1="315.10" x2="303.10" y2="315.10" stroke="#443064" stroke-width="0.8" />
<line x1="297.50" y1="343.40" x2="303.10" y2="343.40" stroke="#443064" stroke-width="0.8" />
<circle cx="214.20" cy="306.90" r="2.10" fill="none" stroke="#2a6088" stroke-width="1.0"/>
<circle cx="214.20" cy="327.70" r="2.10" fill="none" stroke="#2a6088" stroke-width="1.0"/>
<circle cx="214.20" cy="334.20" r="2.10" fill="none" stroke="#2a6088" stroke-width="1.0"/>
<circle cx="214.20" cy="345.00" r="2.10" fill="none" stroke="#2a6088" stroke-width="1.0"/>
<circle cx="214.20" cy="368.80" r="2.10" fill="none" stroke="#2a6088" stroke-width="1.0"/>
<rect x="225.35" y="346.05" width="3.90" height="3.90" fill="none" stroke="#d23a5a" stroke-width="1.0"/>
<rect x="232.75" y="347.25" width="3.90" height="3.90" fill="none" stroke="#d23a5a" stroke-width="1.0"/>
<rect x="228.85" y="353.45" width="3.90" height="3.90" fill="none" stroke="#d23a5a" stroke-width="1.0"/>
<rect x="225.35" y="365.45" width="3.90" height="3.90" fill="none" stroke="#d23a5a" stroke-width="1.0"/>
<rect x="232.75" y="363.85" width="3.90" height="3.90" fill="none" stroke="#d23a5a" stroke-width="1.0"/>
<polygon points="248.50,313.40 250.88,317.77 246.12,317.77" fill="none" stroke="#5e3f86" stroke-width="1.0" stroke-linejoin="miter"/>
<polygon points="248.50,327.40 250.88,331.77 246.12,331.77" fill="none" stroke="#5e3f86" stroke-width="1.0" stroke-linejoin="miter"/>
<polygon points="248.50,347.90 250.88,352.27 246.12,352.27" fill="none" stroke="#5e3f86" stroke-width="1.0" stroke-linejoin="miter"/>
<polygon points="248.50,360.90 250.88,365.27 246.12,365.27" fill="none" stroke="#5e3f86" stroke-width="1.0" stroke-linejoin="miter"/>
<polygon points="248.50,365.90 250.88,370.27 246.12,370.27" fill="none" stroke="#5e3f86" stroke-width="1.0" stroke-linejoin="miter"/>
<circle cx="265.80" cy="332.30" r="1.95" fill="#1b4064" stroke="#1b4064" stroke-width="0.5"/>
<circle cx="262.40" cy="349.20" r="1.95" fill="#1b4064" stroke="#1b4064" stroke-width="0.5"/>
<circle cx="269.30" cy="353.50" r="1.95" fill="#1b4064" stroke="#1b4064" stroke-width="0.5"/>
<circle cx="265.80" cy="359.00" r="1.95" fill="#1b4064" stroke="#1b4064" stroke-width="0.5"/>
<rect x="280.90" y="337.90" width="3.60" height="3.60" fill="#c41236" stroke="#c41236" stroke-width="0.5"/>
<rect x="277.90" y="359.40" width="3.60" height="3.60" fill="#c41236" stroke="#c41236" stroke-width="0.5"/>
<rect x="284.80" y="359.40" width="3.60" height="3.60" fill="#c41236" stroke="#c41236" stroke-width="0.5"/>
<rect x="280.90" y="367.00" width="3.60" height="3.60" fill="#c41236" stroke="#c41236" stroke-width="0.5"/>
<polygon points="300.20,274.20 302.19,277.88 298.20,277.88" fill="#3e2460" stroke="#3e2460" stroke-width="0.5" stroke-linejoin="miter"/>
<polygon points="300.00,326.30 302.00,329.97 298.00,329.97" fill="#3e2460" stroke="#3e2460" stroke-width="0.5" stroke-linejoin="miter"/>
<polygon points="300.00,334.40 302.00,338.07 298.00,338.07" fill="#3e2460" stroke="#3e2460" stroke-width="0.5" stroke-linejoin="miter"/>
<polygon points="300.00,346.40 302.00,350.07 298.00,350.07" fill="#3e2460" stroke="#3e2460" stroke-width="0.5" stroke-linejoin="miter"/>
<polygon points="300.00,356.10 302.00,359.77 298.00,359.77" fill="#3e2460" stroke="#3e2460" stroke-width="0.5" stroke-linejoin="miter"/>
<line x1="202.40" y1="256.50" x2="202.40" y2="372.80" stroke="#111" stroke-width="1.25" />
<line x1="199.00" y1="372.80" x2="202.40" y2="372.80" stroke="#111" stroke-width="1.0" />
<text x="196.30" y="375.30" font-size="8.3" text-anchor="end" fill="#141414" stroke="#141414" stroke-width="0.28" font-weight="normal" >0.0</text>
<line x1="199.00" y1="345.10" x2="202.40" y2="345.10" stroke="#111" stroke-width="1.0" />
<text x="196.30" y="347.60" font-size="8.3" text-anchor="end" fill="#141414" stroke="#141414" stroke-width="0.28" font-weight="normal" >0.2</text>
<line x1="199.00" y1="317.40" x2="202.40" y2="317.40" stroke="#111" stroke-width="1.0" />
<text x="196.30" y="319.90" font-size="8.3" text-anchor="end" fill="#141414" stroke="#141414" stroke-width="0.28" font-weight="normal" >0.4</text>
<line x1="199.00" y1="289.70" x2="202.40" y2="289.70" stroke="#111" stroke-width="1.0" />
<text x="196.30" y="292.20" font-size="8.3" text-anchor="end" fill="#141414" stroke="#141414" stroke-width="0.28" font-weight="normal" >0.6</text>
<line x1="199.00" y1="262.00" x2="202.40" y2="262.00" stroke="#111" stroke-width="1.0" />
<text x="196.30" y="264.50" font-size="8.3" text-anchor="end" fill="#141414" stroke="#141414" stroke-width="0.28" font-weight="normal" >0.8</text>
<line x1="201.90" y1="372.80" x2="311.20" y2="372.80" stroke="#111" stroke-width="1.25" />
<line x1="214.00" y1="372.80" x2="214.00" y2="376.00" stroke="#111" stroke-width="1.0" />
<line x1="231.10" y1="372.80" x2="231.10" y2="376.00" stroke="#111" stroke-width="1.0" />
<line x1="248.60" y1="372.80" x2="248.60" y2="376.00" stroke="#111" stroke-width="1.0" />
<line x1="265.80" y1="372.80" x2="265.80" y2="376.00" stroke="#111" stroke-width="1.0" />
<line x1="283.00" y1="372.80" x2="283.00" y2="376.00" stroke="#111" stroke-width="1.0" />
<line x1="300.30" y1="372.80" x2="300.30" y2="376.00" stroke="#111" stroke-width="1.0" />
<text transform="translate(178.00,314.00) rotate(-90)" font-size="8.2" text-anchor="middle" fill="#141414" stroke="#141414" stroke-width="0.38" textLength="61.0" lengthAdjust="spacingAndGlyphs">Indoxyl sulfate (nM)</text>
<text transform="translate(217.00,382.30) rotate(-45)" font-size="7.7" text-anchor="end" fill="#141414" stroke="#141414" stroke-width="0.28">Normal Trp</text>
<text transform="translate(234.10,382.30) rotate(-45)" font-size="7.7" text-anchor="end" fill="#141414" stroke="#141414" stroke-width="0.28">Zero Trp</text>
<text transform="translate(251.60,382.30) rotate(-45)" font-size="7.7" text-anchor="end" fill="#141414" stroke="#141414" stroke-width="0.28">High Trp</text>
<text transform="translate(268.80,382.30) rotate(-45)" font-size="7.7" text-anchor="end" fill="#141414" stroke="#141414" stroke-width="0.28">Normal Trp</text>
<text transform="translate(286.00,382.30) rotate(-45)" font-size="7.7" text-anchor="end" fill="#141414" stroke="#141414" stroke-width="0.28">Zero Trp</text>
<text transform="translate(303.30,382.30) rotate(-45)" font-size="7.7" text-anchor="end" fill="#141414" stroke="#141414" stroke-width="0.28">High Trp</text>
<line x1="169.60" y1="421.80" x2="217.30" y2="421.80" stroke="#151515" stroke-width="1.15" />
<line x1="231.20" y1="421.80" x2="279.50" y2="421.80" stroke="#151515" stroke-width="1.15" />
<text x="193.45" y="432.20" font-size="8" text-anchor="middle" fill="#141414" stroke="#141414" stroke-width="0.28" font-weight="normal" >No tumor</text>
<text x="255.35" y="432.20" font-size="8" text-anchor="middle" fill="#141414" stroke="#141414" stroke-width="0.28" font-weight="normal" >MC38</text>
<text x="325.4" y="251.3" font-size="12.6" font-weight="bold" fill="#000" stroke="#000" stroke-width="0.45">F</text>
<line x1="364.40" y1="330.80" x2="490.00" y2="313.10" stroke="#c8405c" stroke-width="1.1" />
<circle cx="364.50" cy="309.40" r="2.05" fill="none" stroke="#b82a4a" stroke-width="1.0"/>
<circle cx="364.50" cy="329.80" r="2.05" fill="none" stroke="#b82a4a" stroke-width="1.0"/>
<circle cx="364.50" cy="336.50" r="2.05" fill="none" stroke="#b82a4a" stroke-width="1.0"/>
<circle cx="364.50" cy="339.00" r="2.05" fill="none" stroke="#b82a4a" stroke-width="1.0"/>
<circle cx="364.50" cy="348.20" r="2.05" fill="none" stroke="#b82a4a" stroke-width="1.0"/>
<circle cx="364.50" cy="349.40" r="2.05" fill="#c84a66" stroke="#b82a4a" stroke-width="1.0"/>
<circle cx="380.40" cy="316.50" r="2.05" fill="none" stroke="#b82a4a" stroke-width="1.0"/>
<circle cx="379.80" cy="327.80" r="2.05" fill="none" stroke="#b82a4a" stroke-width="1.0"/>
<circle cx="379.20" cy="334.50" r="2.05" fill="none" stroke="#b82a4a" stroke-width="1.0"/>
<circle cx="386.10" cy="334.90" r="2.05" fill="none" stroke="#b82a4a" stroke-width="1.0"/>
<circle cx="393.90" cy="325.10" r="2.05" fill="none" stroke="#b82a4a" stroke-width="1.0"/>
<circle cx="396.70" cy="313.50" r="2.05" fill="none" stroke="#b82a4a" stroke-width="1.0"/>
<circle cx="399.60" cy="304.70" r="2.05" fill="none" stroke="#b82a4a" stroke-width="1.0"/>
<circle cx="401.80" cy="334.30" r="2.05" fill="none" stroke="#b82a4a" stroke-width="1.0"/>
<circle cx="426.70" cy="327.10" r="2.05" fill="none" stroke="#b82a4a" stroke-width="1.0"/>
<circle cx="447.10" cy="308.20" r="2.05" fill="none" stroke="#b82a4a" stroke-width="1.0"/>
<circle cx="460.00" cy="289.60" r="2.05" fill="none" stroke="#b82a4a" stroke-width="1.0"/>
<circle cx="461.40" cy="324.90" r="2.05" fill="none" stroke="#b82a4a" stroke-width="1.0"/>
<circle cx="488.00" cy="317.80" r="2.05" fill="none" stroke="#b82a4a" stroke-width="1.0"/>
<circle cx="489.80" cy="322.40" r="2.05" fill="none" stroke="#b82a4a" stroke-width="1.0"/>
<circle cx="486.70" cy="326.50" r="2.05" fill="none" stroke="#b82a4a" stroke-width="1.0"/>
<line x1="364.40" y1="271.80" x2="364.40" y2="372.70" stroke="#111" stroke-width="1.25" />
<line x1="361.00" y1="372.70" x2="364.40" y2="372.70" stroke="#111" stroke-width="1.0" />
<text x="357.10" y="375.20" font-size="8.3" text-anchor="end" fill="#141414" stroke="#141414" stroke-width="0.28" font-weight="normal" >0.000</text>
<line x1="361.00" y1="349.14" x2="364.40" y2="349.14" stroke="#111" stroke-width="1.0" />
<text x="357.10" y="351.64" font-size="8.3" text-anchor="end" fill="#141414" stroke="#141414" stroke-width="0.28" font-weight="normal" >0.001</text>
<line x1="361.00" y1="325.58" x2="364.40" y2="325.58" stroke="#111" stroke-width="1.0" />
<text x="357.10" y="328.08" font-size="8.3" text-anchor="end" fill="#141414" stroke="#141414" stroke-width="0.28" font-weight="normal" >0.002</text>
<line x1="361.00" y1="302.02" x2="364.40" y2="302.02" stroke="#111" stroke-width="1.0" />
<text x="357.10" y="304.52" font-size="8.3" text-anchor="end" fill="#141414" stroke="#141414" stroke-width="0.28" font-weight="normal" >0.003</text>
<line x1="361.00" y1="278.46" x2="364.40" y2="278.46" stroke="#111" stroke-width="1.0" />
<text x="357.10" y="280.96" font-size="8.3" text-anchor="end" fill="#141414" stroke="#141414" stroke-width="0.28" font-weight="normal" >0.004</text>
<line x1="363.90" y1="372.70" x2="508.50" y2="372.70" stroke="#111" stroke-width="1.1" />
<line x1="364.40" y1="372.70" x2="364.40" y2="375.70" stroke="#111" stroke-width="1.0" />
<text x="364.40" y="386.00" font-size="8.3" text-anchor="middle" fill="#141414" stroke="#141414" stroke-width="0.28" font-weight="normal" >0</text>
<line x1="392.78" y1="372.70" x2="392.78" y2="375.70" stroke="#111" stroke-width="1.0" />
<text x="392.78" y="386.00" font-size="8.3" text-anchor="middle" fill="#141414" stroke="#141414" stroke-width="0.28" font-weight="normal" >50</text>
<line x1="421.16" y1="372.70" x2="421.16" y2="375.70" stroke="#111" stroke-width="1.0" />
<text x="421.16" y="386.00" font-size="8.3" text-anchor="middle" fill="#141414" stroke="#141414" stroke-width="0.28" font-weight="normal" >100</text>
<line x1="449.54" y1="372.70" x2="449.54" y2="375.70" stroke="#111" stroke-width="1.0" />
<text x="449.54" y="386.00" font-size="8.3" text-anchor="middle" fill="#141414" stroke="#141414" stroke-width="0.28" font-weight="normal" >150</text>
<line x1="477.92" y1="372.70" x2="477.92" y2="375.70" stroke="#111" stroke-width="1.0" />
<text x="477.92" y="386.00" font-size="8.3" text-anchor="middle" fill="#141414" stroke="#141414" stroke-width="0.28" font-weight="normal" >200</text>
<line x1="506.30" y1="372.70" x2="506.30" y2="375.70" stroke="#111" stroke-width="1.0" />
<text x="506.30" y="386.00" font-size="8.3" text-anchor="middle" fill="#141414" stroke="#141414" stroke-width="0.28" font-weight="normal" >250</text>
<text transform="translate(332.30,320.60) rotate(-90)" font-size="8.2" text-anchor="middle" fill="#141414" stroke="#141414" stroke-width="0.38" textLength="75.0" lengthAdjust="spacingAndGlyphs">Clot weight/body weight</text>
<text x="435.10" y="399.40" font-size="8" text-anchor="middle" fill="#141414" stroke="#141414" stroke-width="0.28" font-weight="normal" textLength="28.6" lengthAdjust="spacingAndGlyphs">Kyn (nM)</text>
<rect x="0.5" y="0.5" width="519" height="440" fill="none" stroke="#3c3c3c" stroke-width="1"/>
</svg>
</body></html>
